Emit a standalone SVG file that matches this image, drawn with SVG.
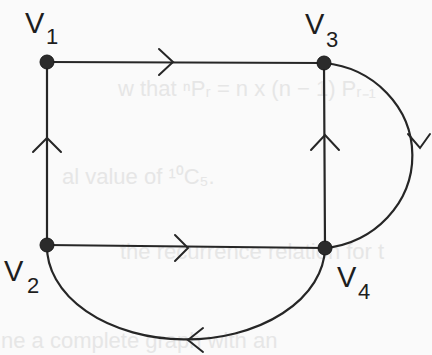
<svg xmlns="http://www.w3.org/2000/svg" width="432" height="355" viewBox="0 0 432 355">
<style>
.edge{fill:none;stroke:#262626;stroke-width:2.2;stroke-linecap:round;stroke-linejoin:round}
.arrow{fill:none;stroke:#262626;stroke-width:2;stroke-linecap:round;stroke-linejoin:miter}
.dot{fill:#2b2b2b;stroke:#1a1a1a;stroke-width:1}
.lbl{font-family:"Liberation Sans",Arial,sans-serif;font-size:29px;fill:#1e1e1e}
.sub{font-family:"Liberation Sans",Arial,sans-serif;font-size:22px;fill:#1e1e1e}
.bg{font-family:"Liberation Sans",Arial,sans-serif;font-size:22px;fill:#e6e6e6}
</style>
<rect width="432" height="355" fill="#fafafa"/>
<g id="background">
<text class="bg" x="118" y="96">w that ⁿPᵣ = n x (n − 1) Pᵣ₋₁</text>
<text class="bg" x="62" y="184">al value of ¹⁰C₅.</text>
<text class="bg" x="120" y="259">the recurrence relation for t</text>
<text class="bg" x="1" y="348">ne a complete graph with an</text>
</g>
<g id="connectors">
<path class="edge" d="M47,62 L324,63"/>
<path class="arrow" d="M159,49 L173,62 L159,75"/>
<path class="edge" d="M47,245 L47,62"/>
<path class="arrow" d="M33,152 L47,138 L61,152"/>
<path class="edge" d="M47,245 L325,248"/>
<path class="arrow" d="M175,235 L188,248 L175,261"/>
<path class="edge" d="M325,248 L324,63"/>
<path class="arrow" d="M311,150 L325,135 L339,150"/>
<path class="edge" d="M324,63 A98,93 0 0 1 325,248"/>
<path class="arrow" d="M408,134 L420,148 L430,134"/>
<path class="edge" d="M325,248 A139,93 0 0 1 47,245"/>
<path class="arrow" d="M203,328 L188,340 L203,352"/>
</g>
<g id="V1">
<circle class="dot" cx="47" cy="62" r="7"/>
<text class="lbl" x="25" y="33">V</text><text class="sub" x="46" y="44">1</text>
</g>
<g id="V3">
<circle class="dot" cx="324" cy="63" r="7"/>
<text class="lbl" x="305" y="34">V</text><text class="sub" x="326" y="47">3</text>
</g>
<g id="V2">
<circle class="dot" cx="47" cy="245" r="7"/>
<text class="lbl" x="4" y="281">V</text><text class="sub" x="27" y="293">2</text>
</g>
<g id="V4">
<circle class="dot" cx="325" cy="248" r="7"/>
<text class="lbl" x="337" y="287">V</text><text class="sub" x="358" y="299">4</text>
</g>
</svg>
